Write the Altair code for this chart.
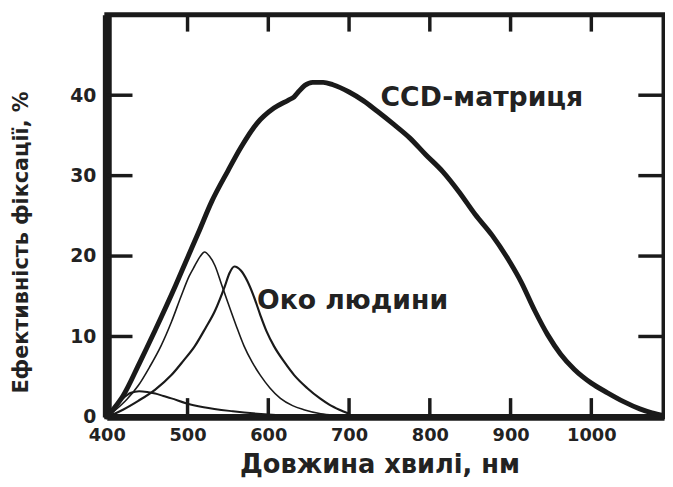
import altair as alt
import pandas as pd

# ---- data ----
ccd_nm = [400, 410, 420, 440, 460, 485, 500, 513, 530, 550, 566, 586, 607, 625, 632, 638, 645,
          655, 668, 680, 700, 718, 735, 755, 775, 795, 816, 836, 856, 877, 897, 913, 930, 946,
          962, 979, 1000, 1020, 1040, 1060, 1075, 1090]
ccd_val = [0, 1.2, 2.6, 6.6, 10.8, 16.3, 19.8, 22.8, 26.8, 30.6, 33.5, 36.5, 38.4, 39.4, 39.8,
           40.5, 41.2, 41.6, 41.6, 41.3, 40.4, 39.3, 38.0, 36.4, 34.7, 32.6, 30.5, 28.0, 25.2,
           22.6, 19.6, 16.8, 13.2, 10.2, 7.8, 5.9, 4.2, 3.0, 1.9, 1.0, 0.5, 0.15]

scot_nm = [400, 410, 425, 439, 453, 467, 480, 492, 502, 509, 516, 521, 527, 534, 542, 550, 560,
           570, 580, 590, 602, 615, 630, 644, 665, 685, 700]
scot_val = [0, 0.8, 2.2, 3.9, 6.2, 8.8, 11.8, 15.0, 17.5, 18.8, 20.0, 20.5, 20.0, 18.8, 16.5,
            14.2, 11.4, 8.8, 6.8, 5.2, 3.6, 2.3, 1.4, 0.9, 0.4, 0.2, 0.1]

phot_nm = [400, 420, 439, 460, 480, 495, 509, 522, 534, 546, 552, 558, 566, 574, 582, 590, 598,
           607, 620, 632, 648, 664, 676, 688, 700]
phot_val = [0, 0.9, 2.0, 3.4, 5.2, 7.0, 8.8, 11.0, 13.2, 16.2, 17.9, 18.7, 18.2, 16.9, 15.0,
            12.7, 10.6, 8.8, 6.8, 5.2, 3.6, 2.3, 1.5, 0.9, 0.4]

small_nm = [400, 410, 420, 430, 440, 450, 460, 470, 480, 498, 520, 556, 600, 650]
small_val = [0, 1.2, 2.3, 3.0, 3.2, 3.1, 2.9, 2.6, 2.3, 1.7, 1.2, 0.7, 0.3, 0.1]

x_ticks = [400, 500, 600, 700, 800, 900, 1000]
x_inner_ticks = [500, 600, 700, 800, 900, 1000]
y_ticks = [0, 10, 20, 30, 40]
y_inner_ticks = [10, 20, 30, 40]

labels_text = ["CCD-матриця", "Око людини"]
labels_nm = [739, 586]
labels_val = [39.6, 14.4]

x_title = "Довжина хвилі, нм"
y_title = "Ефективність фіксації, %"

# ---- chart ----
W, H = 564, 407
X0, X1 = 400, 1090
Y0, Y1 = 0, 50
INK = "#1a1a1a"
FONT = "DejaVu Sans"

TX = (X1 - X0) / W  # nm per pixel
TY = (Y1 - Y0) / H  # % per pixel

xscale = alt.Scale(domain=[X0, X1], nice=False, zero=False)
yscale = alt.Scale(domain=[Y0, Y1], nice=False)

xaxis = alt.Axis(values=x_ticks, title=x_title, format="d", ticks=False, grid=False,
                 domainWidth=7, domainColor=INK, labelFont=FONT, labelFontWeight="bold",
                 labelFontSize=18, labelColor="#222", labelPadding=10, labelFlush=False,
                 titleFont=FONT, titleFontWeight="bold", titleFontSize=26, titleColor="#222",
                 titleX=276, titleY=48, titleBaseline="middle", titleAlign="center")
yaxis = alt.Axis(values=y_ticks, title=y_title, format="d", ticks=False, grid=False,
                 domainWidth=9, domainColor=INK, labelFont=FONT, labelFontWeight="bold",
                 labelFontSize=19, labelColor="#222", labelPadding=11, labelFlush=False,
                 titleFont=FONT, titleFontWeight="bold", titleFontSize=21, titleColor="#222",
                 titleAngle=270, titleX=-86, titleY=230, titleBaseline="middle",
                 titleAlign="center")


def X(field="nm"):
    return alt.X(f"{field}:Q", scale=xscale, axis=xaxis)


def Y(field="v"):
    return alt.Y(f"{field}:Q", scale=yscale, axis=yaxis)


def curve(nm, val, width):
    df = pd.DataFrame({"nm": nm, "v": val})
    return alt.Chart(df).mark_line(color=INK, strokeWidth=width, interpolate="monotone",
                                   strokeCap="round", strokeJoin="round").encode(x=X(), y=Y())


# inward tick marks on all four sides of the frame
xt = pd.DataFrame({
    "nm": x_inner_ticks + x_inner_ticks,
    "a": [Y0] * len(x_inner_ticks) + [Y1] * len(x_inner_ticks),
    "b": [Y0 + 19 * TY] * len(x_inner_ticks) + [Y1 - 17 * TY] * len(x_inner_ticks),
})
yt = pd.DataFrame({
    "v": y_inner_ticks + y_inner_ticks,
    "a": [X0] * len(y_inner_ticks) + [X1 - 26 * TX] * len(y_inner_ticks),
    "b": [X0 + 26 * TX] * len(y_inner_ticks) + [X1] * len(y_inner_ticks),
})

vticks = alt.Chart(xt).mark_rule(color=INK, strokeWidth=3.5).encode(
    x=X("nm"), y=Y("a"), y2=alt.Y2("b"))
hticks = alt.Chart(yt).mark_rule(color=INK, strokeWidth=3.5).encode(
    y=Y("v"), x=X("a"), x2=alt.X2("b"))

texts = alt.Chart(pd.DataFrame({"nm": labels_nm, "v": labels_val, "t": labels_text})).mark_text(
    align="left", baseline="middle", font=FONT, fontWeight="bold", fontSize=27, color="#222"
).encode(x=X(), y=Y(), text="t:N")

chart = alt.layer(
    curve(small_nm, small_val, 2),
    curve(scot_nm, scot_val, 1.6),
    curve(phot_nm, phot_val, 2.2),
    curve(ccd_nm, ccd_val, 5),
    texts,
    vticks,
    hticks,
).properties(
    width=W, height=H,
    autosize=alt.AutoSizeParams(type="none"),
    padding={"left": 100, "top": 4, "right": 1, "bottom": 62},
    background="white",
).configure_view(stroke=INK, strokeWidth=5)

chart.save("out.html", embed_options={"renderer": "svg", "actions": False})
